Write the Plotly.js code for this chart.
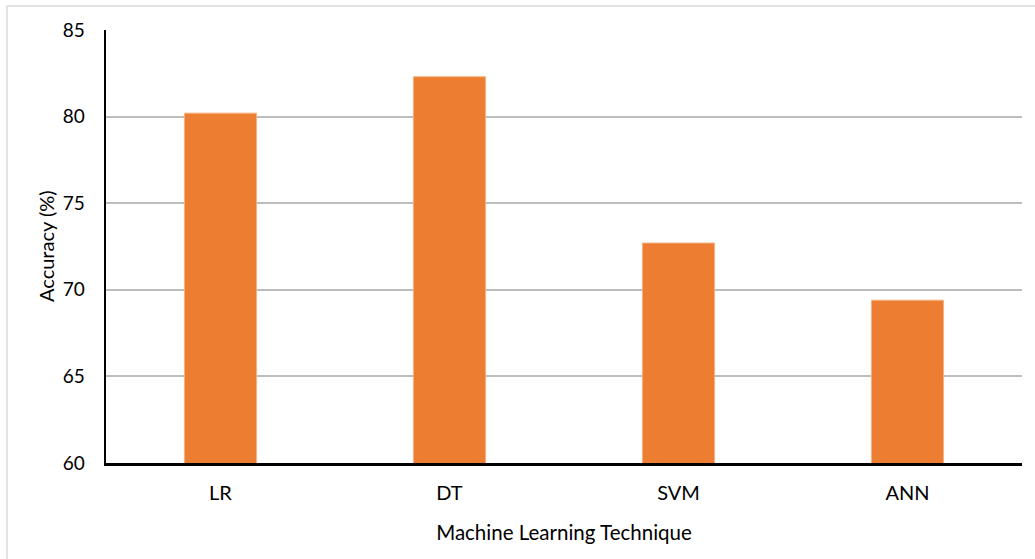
<!DOCTYPE html>
<html>
<head>
<meta charset="utf-8">
<script src="https://cdn.plot.ly/plotly-3.0.1.min.js"></script>
<style>html,body{margin:0;padding:0;background:#fff;}#chart{width:1035px;height:559px;}</style>
</head>
<body>
<div id="chart"></div>
<script>
const categories = ["LR", "DT", "SVM", "ANN"];
const accuracy = [80.2, 82.3, 72.7, 69.4];
const yTicks = [60, 65, 70, 75, 80, 85];

const W = 1035, H = 559;
const margin = {l: 106, r: 13, t: 30, b: 96};
const pw = W - margin.l - margin.r, ph = H - margin.t - margin.b;
const px = v => (v - margin.l) / pw;
const py = v => (H - margin.b - v) / ph;

const trace = {
  type: "bar",
  x: categories,
  y: accuracy,
  width: 0.315,
  marker: {color: "#ED7D31", line: {color: "#F4B183", width: 1}},
  hoverinfo: "x+y"
};

const layout = {
  width: W, height: H,
  margin: margin,
  paper_bgcolor: "#fff", plot_bgcolor: "#fff",
  font: {family: "Lato, 'Open Sans', sans-serif", color: "#000", size: 20},
  showlegend: false,
  bargap: 0.685,
  xaxis: {
    type: "category",
    showline: true, linecolor: "#000", linewidth: 2.5,
    ticks: "", showgrid: false,
    ticklabelstandoff: 10,
    tickfont: {size: 20},
    title: {text: "Machine Learning Technique", font: {size: 20.5}, standoff: 23},
    fixedrange: true
  },
  yaxis: {
    range: [60, 85],
    tickvals: yTicks,
    ticktext: yTicks.map(String),
    showline: true, linecolor: "#000", linewidth: 2.5,
    showgrid: true, gridcolor: "#BDBDBD", gridwidth: 1.8,
    zeroline: false, ticks: "",
    ticklabelstandoff: 15,
    tickfont: {size: 19},
    fixedrange: true
  },
  annotations: [
    {text: "Accuracy (%)", xref: "paper", yref: "paper", x: px(46), y: py(246),
     xanchor: "center", yanchor: "middle", textangle: -90, showarrow: false,
     font: {size: 20, color: "#000"}}
  ],
  shapes: [
    {type: "line", xref: "paper", yref: "paper", x0: px(7), x1: px(7), y0: py(6), y1: py(559), line: {color: "#D9D9D9", width: 1.5}},
    {type: "line", xref: "paper", yref: "paper", x0: px(7), x1: px(1035), y0: py(6), y1: py(6), line: {color: "#D9D9D9", width: 1.5}}
  ]
};

Plotly.newPlot("chart", [trace], layout, {displayModeBar: false, staticPlot: true});
</script>
</body>
</html>
